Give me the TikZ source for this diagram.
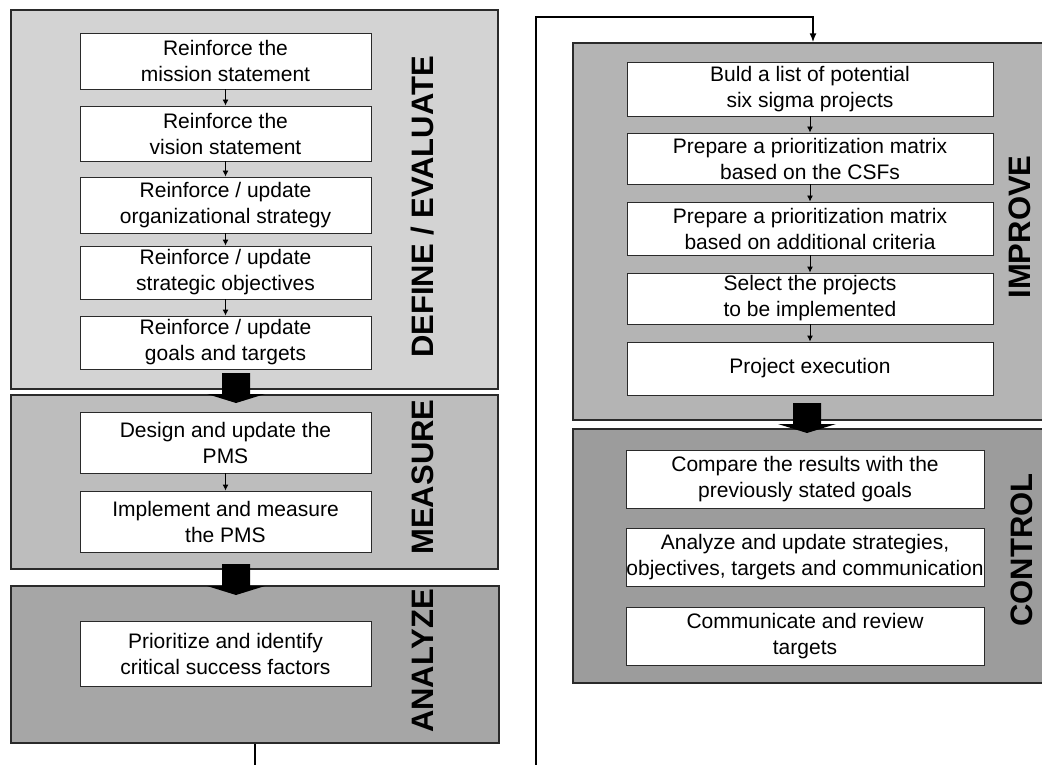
\documentclass[tikz,border=0pt]{standalone}
\usepackage{fontspec}
\setmainfont{Liberation Sans}
\usetikzlibrary{arrows.meta,calc}

\definecolor{defgray}{HTML}{D3D3D3}
\definecolor{measgray}{HTML}{BDBDBD}
\definecolor{anagray}{HTML}{A6A6A6}
\definecolor{impgray}{HTML}{B4B4B4}
\definecolor{ctlgray}{HTML}{9C9C9C}
\definecolor{edge}{HTML}{2A2A2A}

\tikzset{
  panel/.style={draw=edge, line width=1.4pt, rectangle, inner sep=0pt},
  stepbox/.style={draw=edge, line width=0.9pt, fill=white, rectangle, inner sep=0pt,
    align=center, font=\fontsize{21}{26}\selectfont},
  phase/.style={rotate=90, font=\bfseries\fontsize{31}{31}\selectfont, inner sep=0pt},
  link/.style={line width=0.9pt, -{Latex[length=6pt,width=6pt]}},
  loop/.style={line width=1.6pt, -{Latex[length=9pt,width=7pt]}},
}

% filled block arrow: centre x, top y, tip y
\newcommand{\blockarrow}[3]{%
  \fill[black] (#1-14,#2) -- (#1+14,#2) -- (#1+14,#3-9) -- (#1+29,#3-9)
    -- (#1,#3) -- (#1-29,#3-9) -- (#1-14,#3-9) -- cycle;}

\begin{document}
\begin{tikzpicture}[x=1pt,y=-1pt]
\path[use as bounding box, clip] (0,0) rectangle (1042,765);
\fill[white] (0,0) rectangle (1042,765);

% phase panels
\node[panel, fill=defgray,  minimum width=487, minimum height=379] (define)  at (254.5,199.5) {};
\node[panel, fill=measgray, minimum width=487, minimum height=174] (measure) at (254.5,482) {};
\node[panel, fill=anagray,  minimum width=488, minimum height=157] (analyze) at (255,664.5) {};
\node[panel, fill=impgray,  minimum width=480, minimum height=377] (improve) at (813,231.5) {};
\node[panel, fill=ctlgray,  minimum width=480, minimum height=254] (control) at (813,556) {};

% phase titles
\node[phase] (tdef) at (423,207) {DEFINE / EVALUATE};
\node[phase] (tmea) at (423,477) {MEASURE};
\node[phase] (tana) at (423,661) {ANALYZE};
\node[phase] (timp) at (1020,227) {IMPROVE};
\node[phase] (tctl) at (1022,550) {CONTROL};

% define / evaluate steps
\node[stepbox, minimum width=291, minimum height=56] (d1) at (225.5,61)    {Reinforce the\\mission statement};
\node[stepbox, minimum width=291, minimum height=55] (d2) at (225.5,133.5) {Reinforce the\\vision statement};
\node[stepbox, minimum width=291, minimum height=56] (d3) at (225.5,205)   {Reinforce / update\\organizational strategy};
\node[stepbox, minimum width=291, minimum height=53] (d4) at (225.5,272.5) {Reinforce / update\\strategic objectives};
\node[stepbox, minimum width=291, minimum height=53] (d5) at (225.5,342.5) {Reinforce / update\\goals and targets};

% measure steps
\node[stepbox, minimum width=291, minimum height=61] (m1) at (225.5,442.5) {Design and update the\\PMS};
\node[stepbox, minimum width=291, minimum height=61] (m2) at (225.5,521.5) {Implement and measure\\the PMS};

% analyze step
\node[stepbox, minimum width=291, minimum height=65] (a1) at (225.5,653.5) {Prioritize and identify\\critical success factors};

% improve steps
\node[stepbox, minimum width=366, minimum height=54] (i1) at (810,89)    {Buld a list of potential\\six sigma projects};
\node[stepbox, minimum width=366, minimum height=51] (i2) at (810,158.5) {Prepare a prioritization matrix\\based on the CSFs};
\node[stepbox, minimum width=366, minimum height=53] (i3) at (810,228.5) {Prepare a prioritization matrix\\based on additional criteria};
\node[stepbox, minimum width=366, minimum height=51] (i4) at (810,298.5) {Select the projects\\to be implemented};
\node[stepbox, minimum width=366, minimum height=53] (i5) at (810,368.5) {Project execution};

% control steps
\node[stepbox, minimum width=358, minimum height=58] (c1) at (805,479) {Compare the results with the\\previously stated goals};
\node[stepbox, minimum width=358, minimum height=58] (c2) at (805,557) {Analyze and update strategies,\\objectives, targets and communication};
\node[stepbox, minimum width=358, minimum height=58] (c3) at (805,636) {Communicate and review\\targets};

% step links
\draw[link] (d1) -- (d2);
\draw[link] (d2) -- (d3);
\draw[link] (d3) -- (d4);
\draw[link] (d4) -- (d5);
\draw[link] (m1) -- (m2);
\draw[link] (i1) -- (i2);
\draw[link] (i2) -- (i3);
\draw[link] (i3) -- (i4);
\draw[link] (i4) -- (i5);

% block arrows between phases
\blockarrow{236}{373}{403}
\blockarrow{236}{564}{595}
\blockarrow{807}{403}{433}

% feedback loop from analyze to improve
\coordinate (loopL) at (255,800);
\coordinate (loopR) at (536,800);
\coordinate (loopT) at (536,17);
\draw[loop] (analyze.south) -- (loopL) -- (loopR) -- (loopT) -- (loopT -| improve.north) -- (improve.north);
\end{tikzpicture}
\end{document}
